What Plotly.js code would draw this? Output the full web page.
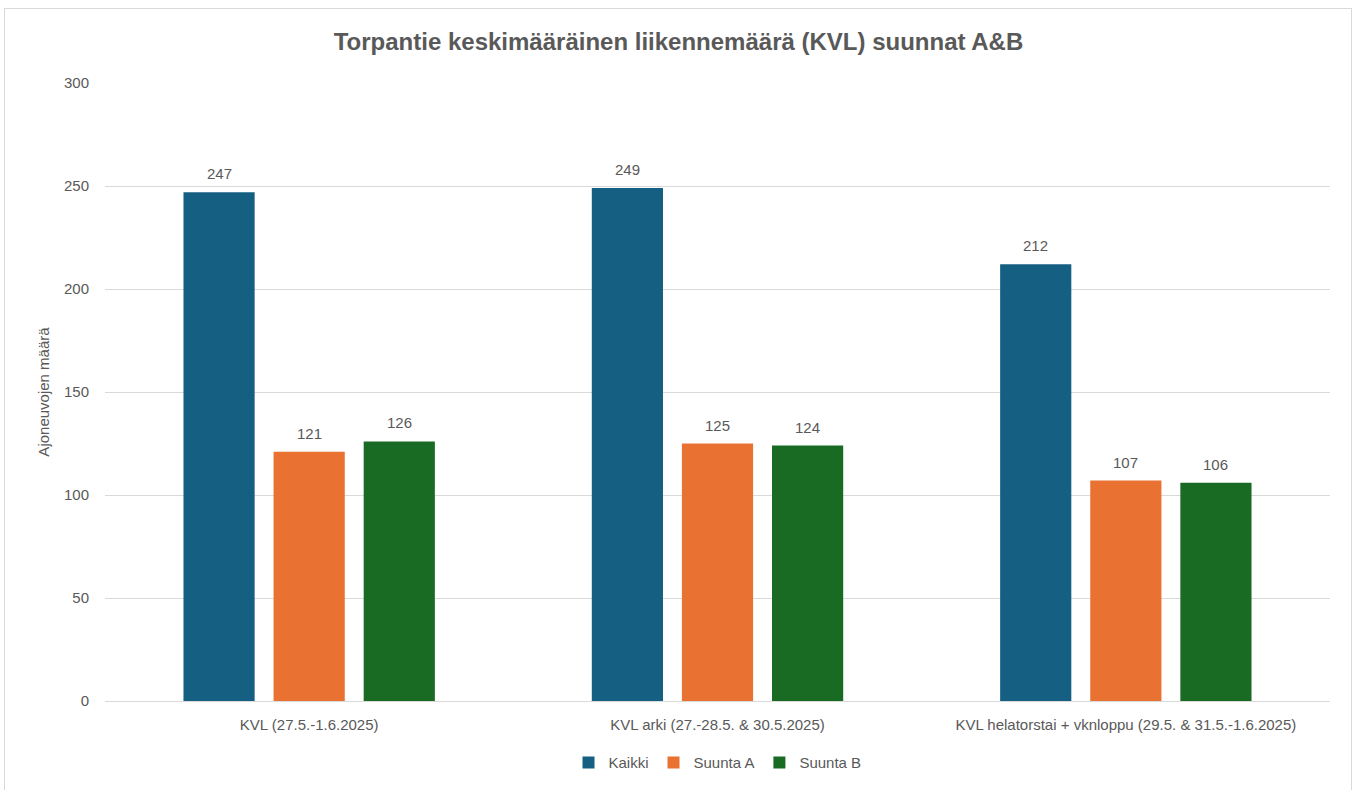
<!DOCTYPE html>
<html>
<head>
<meta charset="utf-8">
<script src="https://cdn.plot.ly/plotly-3.0.1.min.js"></script>
<style>
html,body{margin:0;padding:0;background:#fff;}
#wrap{position:relative;width:1357px;height:790px;}
#chart{position:absolute;left:0;top:0;width:1357px;height:790px;}
#frame{position:absolute;left:4px;top:8px;width:1346px;height:800px;border:1px solid #d9d9d9;pointer-events:none;}
</style>
</head>
<body>
<div id="wrap"><div id="chart"></div><div id="frame"></div></div>
<script>
const categories = ["KVL (27.5.-1.6.2025)", "KVL arki (27.-28.5. & 30.5.2025)", "KVL helatorstai + vknloppu (29.5. & 31.5.-1.6.2025)"];
const seriesNames = ["Kaikki", "Suunta A", "Suunta B"];
const kaikki = [247, 249, 212];
const suuntaA = [121, 125, 107];
const suuntaB = [126, 124, 106];
const colors = ["#156082", "#E97132", "#196B24"];
const values = [kaikki, suuntaA, suuntaB];

const BARGAP = 0.338;
const BARGROUPGAP = 0.21;

const traces = values.map((v, i) => ({
  type: "bar",
  name: seriesNames[i],
  x: categories,
  y: v,
  marker: {color: colors[i]},
  hoverinfo: "x+y+name"
}));

// value labels placed over each bar using the category index + the group slot offset
const slot = (1 - BARGAP) / values.length;
const annotations = [];
values.forEach((v, i) => {
  v.forEach((val, j) => {
    annotations.push({
      xref: "x", yref: "y",
      x: j + (i - (values.length - 1) / 2) * slot,
      y: val,
      text: String(val),
      showarrow: false,
      yanchor: "bottom",
      yshift: 8,
      font: {family: "Liberation Sans, Arial, sans-serif", size: 15, color: "#595959"}
    });
  });
});

const layout = {
  width: 1357, height: 790,
  margin: {l: 105, r: 27, t: 83, b: 88},
  paper_bgcolor: "#ffffff",
  plot_bgcolor: "#ffffff",
  title: {
    text: "<b>Torpantie keskimääräinen liikennemäärä (KVL) suunnat A&B</b>",
    font: {family: "Liberation Sans, Arial, sans-serif", size: 24, color: "#595959"},
    x: 0.5, xanchor: "center", y: 0.947, yanchor: "middle"
  },
  bargap: BARGAP,
  bargroupgap: BARGROUPGAP,
  barmode: "group",
  annotations: annotations,
  xaxis: {
    type: "category",
    tickfont: {family: "Liberation Sans, Arial, sans-serif", size: 15, color: "#595959"},
    showgrid: false,
    showline: true, linecolor: "#d9d9d9", linewidth: 1,
    ticks: "", ticklabelstandoff: 10
  },
  yaxis: {
    range: [0, 300],
    dtick: 50,
    tickfont: {family: "Liberation Sans, Arial, sans-serif", size: 15, color: "#595959"},
    gridcolor: "#d9d9d9", gridwidth: 1,
    zeroline: false,
    showline: false,
    ticks: "", ticklabelstandoff: 15,
    title: {text: "Ajoneuvojen määrä", font: {family: "Liberation Sans, Arial, sans-serif", size: 15, color: "#595959"}, standoff: 10}
  },
  legend: {
    orientation: "h",
    x: 0.5, xanchor: "center",
    y: -0.098, yanchor: "middle",
    font: {family: "Liberation Sans, Arial, sans-serif", size: 15, color: "#595959"},
    itemwidth: 30,
    traceorder: "normal"
  },
  showlegend: true
};

Plotly.newPlot("chart", traces, layout, {displayModeBar: false, responsive: false});
</script>
</body>
</html>
